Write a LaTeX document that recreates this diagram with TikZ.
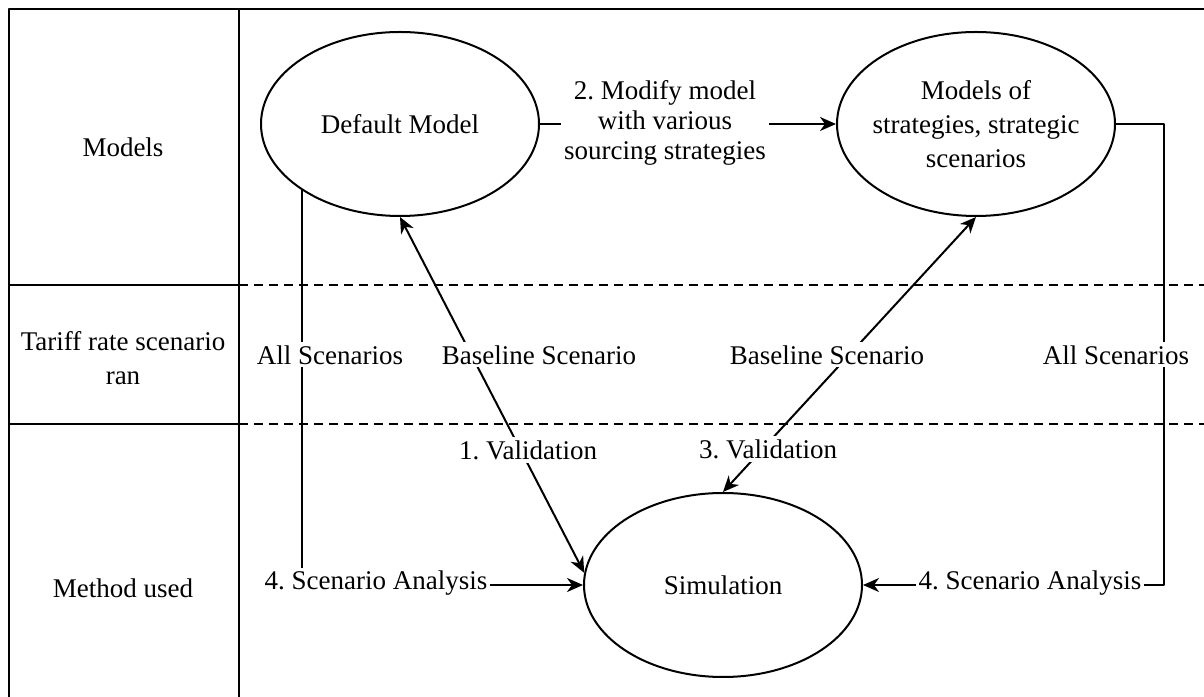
\documentclass[tikz,border=0pt]{standalone}
\usepackage{fontspec}
\setmainfont{Liberation Serif}
\usetikzlibrary{arrows.meta}
\usetikzlibrary{shapes}
\frenchspacing

\begin{document}
\begin{tikzpicture}[>={Stealth[length=8bp,width=7bp,inset=2.5bp]},line join=bevel,line width=1bp,
  every node/.style={font=\rmfamily\fontsize{13.5bp}{17bp}\selectfont,align=center},
  ell/.style={draw,ellipse,minimum width=139bp,minimum height=92bp,inner sep=-6bp},
  lbl/.style={fill=white,inner sep=1.5bp},
  frame/.style={line width=1.2bp}]
%%
\useasboundingbox (0bp,0bp) rectangle (602bp,348.5bp);
\draw [frame] (4.5bp,0bp) -- (4.5bp,344bp) -- (602bp,344bp);
\draw [frame] (119.5bp,0bp) -- (119.5bp,344bp);
\draw [frame] (4.5bp,206bp) -- (119.5bp,206bp);
\draw [frame] (4.5bp,136.5bp) -- (119.5bp,136.5bp);
\draw [dash pattern=on 4.5bp off 3bp] (119.5bp,206bp) -- (602bp,206bp);
\draw [dash pattern=on 4.5bp off 3bp] (119.5bp,136.5bp) -- (602bp,136.5bp);
%
\node (node_r0) at (61.5bp,275bp) {Models};
\node (node_r1) at (61.5bp,169.5bp) {Tariff rate scenario\\ran};
\node (node_r2) at (61.5bp,54.5bp) {Method used};
%
\node (node_def) at (200bp,286.5bp) [ell] {Default Model};
\node (node_strat) at (488bp,286.5bp) [ell] {Models of\\strategies, strategic\\scenarios};
\node (node_sim) at (361.5bp,56bp) [ell] {Simulation};
%
\draw [black,->] (node_def.east) -- (node_strat.west);
\draw [black,->] (node_def.214) |- (node_sim.west);
\draw [black,->] (node_strat.east) -- ++(24bp,0bp) |- (node_sim.east);
\draw [black,<->] (node_def.south) -- (node_sim.175);
\draw [black,<->] (node_strat.south) -- (node_sim.north);
%
\node (node_l0) at (332.5bp,287bp) [lbl,font=\rmfamily\fontsize{13.5bp}{15bp}\selectfont] {2. Modify model\\with various\\sourcing strategies};
\node (node_l1) at (165bp,171bp) [lbl] {All Scenarios};
\node (node_l2) at (269.5bp,171bp) [lbl] {Baseline Scenario};
\node (node_l3) at (264bp,123.5bp) [lbl] {1. Validation};
\node (node_l4) at (413.5bp,171bp) [lbl] {Baseline Scenario};
\node (node_l5) at (384bp,124bp) [lbl] {3. Validation};
\node (node_l6) at (558bp,171bp) [lbl] {All Scenarios};
\node (node_l7) at (188bp,57bp) [lbl] {4. Scenario Analysis};
\node (node_l8) at (515bp,57bp) [lbl] {4. Scenario Analysis};
%
\end{tikzpicture}
\end{document}
